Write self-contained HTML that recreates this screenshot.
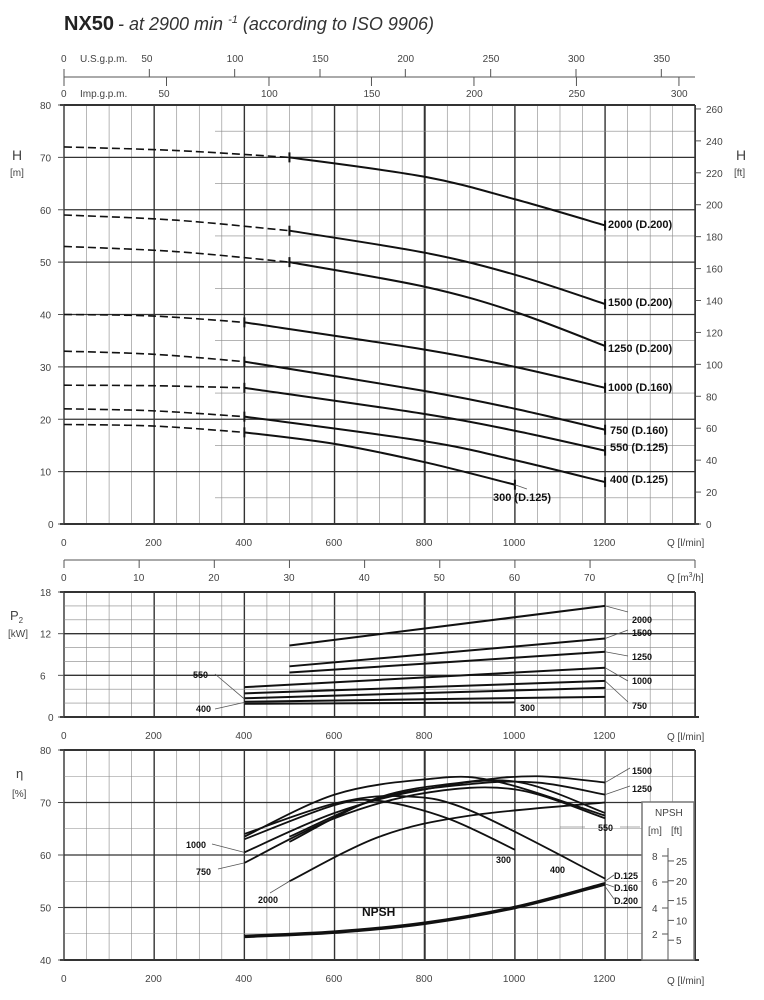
<!DOCTYPE html>
<html><head><meta charset="utf-8"><style>
html,body{margin:0;padding:0;background:#fff;}
svg{display:block;font-family:"Liberation Sans",sans-serif;}
.t{font-size:10px;fill:#444;}
.b{font-size:11px;font-weight:bold;fill:#111;}
.s{font-size:9px;font-weight:bold;fill:#111;}
</style></head><body>
<svg id="s" width="764" height="1000" viewBox="0 0 764 1000" xmlns="http://www.w3.org/2000/svg">
<g id="g"></g>
<text x="64" y="30" style="font-size:20px;font-weight:bold;fill:#222">NX50</text>
<text x="118" y="30" style="font-size:18px;font-style:italic;fill:#333"> - at 2900 min <tspan dy="-7" style="font-size:11px">-1</tspan><tspan dy="7"> (according to ISO 9906)</tspan></text>
<text class="t" x="61" y="62">0</text><text class="t" x="80" y="62">U.S.g.p.m.</text>
<text class="t" x="61" y="97">0</text><text class="t" x="80" y="97">Imp.g.p.m.</text>
<g id="lab"></g>
<text x="12" y="160" style="font-size:14px;fill:#444">H</text><text class="t" x="10" y="176">[m]</text>
<text x="736" y="160" style="font-size:14px;fill:#444">H</text><text class="t" x="734" y="176">[ft]</text>
<text class="t" x="667" y="546">Q  [l/min]</text>
<text class="t" x="667" y="581">Q  [m<tspan dy="-4" style="font-size:7px">3</tspan><tspan dy="4">/h]</tspan></text>
<text x="10" y="620" style="font-size:13px;fill:#444">P<tspan dy="3" style="font-size:8px">2</tspan></text><text class="t" x="8" y="637">[kW]</text>
<text class="t" x="667" y="740">Q  [l/min]</text>
<text x="16" y="778" style="font-size:13px;fill:#444">η</text><text class="t" x="12" y="797">[%]</text>
<text class="t" x="667" y="984">Q  [l/min]</text>
<text class="b" x="608" y="228">2000 (D.200)</text>
<text class="b" x="608" y="306">1500 (D.200)</text>
<text class="b" x="608" y="352">1250 (D.200)</text>
<text class="b" x="608" y="391">1000 (D.160)</text>
<text class="b" x="610" y="434">750 (D.160)</text>
<text class="b" x="610" y="451">550 (D.125)</text>
<text class="b" x="610" y="483">400 (D.125)</text>
<text class="b" x="493" y="501">300 (D.125)</text>
<text class="s" x="632" y="623">2000</text><text class="s" x="632" y="636">1500</text>
<text class="s" x="632" y="660">1250</text><text class="s" x="632" y="684">1000</text>
<text class="s" x="632" y="709">750</text><text class="s" x="193" y="678">550</text>
<text class="s" x="196" y="712">400</text><text class="s" x="520" y="711">300</text>
<text class="s" x="632" y="774">1500</text><text class="s" x="632" y="792">1250</text>
<text class="s" x="598" y="831">550</text><text class="s" x="186" y="848">1000</text>
<text class="s" x="196" y="875">750</text><text class="s" x="496" y="863">300</text>
<text class="s" x="550" y="873">400</text><text class="s" x="258" y="903">2000</text>
<text class="s" x="614" y="879">D.125</text><text class="s" x="614" y="891">D.160</text><text class="s" x="614" y="904">D.200</text>
<text x="362" y="916" style="font-size:12px;font-weight:bold;fill:#111">NPSH</text>
<rect x="642" y="802" width="52" height="158" fill="#fff" stroke="#777" stroke-width="1.5"/>
<text class="t" x="655" y="816">NPSH</text>
<text class="t" x="648" y="834">[m]</text><text class="t" x="671" y="834">[ft]</text>
<g id="np"></g>
</svg>
<script>
var g=document.getElementById('g'),lab=document.getElementById('lab'),np=document.getElementById('np');
var NS='http://www.w3.org/2000/svg';
function el(p,t,a,txt){var e=document.createElementNS(NS,t);for(var k in a)e.setAttribute(k,a[k]);if(txt!==undefined)e.textContent=txt;p.appendChild(e);return e;}
function L(p,x1,y1,x2,y2,w,c){el(p,'line',{x1:x1,y1:y1,x2:x2,y2:y2,stroke:c||'#555','stroke-width':w||0.7});}
function X(q){return 64+q*0.4509;}
var R=695;
function grid(top,bot,hl){
 for(var q=0;q<=1400;q+=50){var w=q%200==0?1.4:0.6;if(q==800)w=2;L(g,X(q),top,X(q),bot,w,q%200==0?'#333':'#888');}
 hl.forEach(function(h){L(g,h[2]||64,h[0],R,h[0],h[1],h[1]>1?'#333':'#888');});
 L(g,60,bot,R+4,bot,2,'#333');L(g,60,top,R,top,2,'#333');
 for(var q=0;q<=1200;q+=200)el(lab,'text',{'class':'t',x:X(q)-(q==0?3:q<1000?9:12),y:bot+22},q);
}
function Y1(h){return 524-h*5.2375;}
var hl=[];for(var h=5;h<80;h+=5)hl.push([Y1(h),h%10==0?1.3:0.6,h%10==0?64:215]);
grid(105,524,hl);
for(var h=0;h<=80;h+=10){L(g,58,Y1(h),64,Y1(h),1);el(lab,'text',{'class':'t',x:h?40:48,y:Y1(h)+4},h);}
for(var f=0;f<=260;f+=20){var y=524-f*0.3048*5.2375;L(g,R,y,R+6,y,1);el(lab,'text',{'class':'t',x:706,y:y+4},f);}
L(g,R,105,R,524,1.5,'#333');
L(g,64,77,R,77,1);
for(var u=0;u<=350;u+=50){var x=X(u*3.785);L(g,x,69,x,77,1);if(u)el(lab,'text',{'class':'t',x:x-8,y:62},u);}
for(var u=0;u<=300;u+=50){var x=X(u*4.546);L(g,x,77,x,86,1);if(u)el(lab,'text',{'class':'t',x:x-8,y:97},u);}
L(g,64,560,R,560,1);
for(var m=0;m<=70;m+=10){var x=X(m*16.667);L(g,x,560,x,568,1);el(lab,'text',{'class':'t',x:x-(m?6:3),y:581},m);}
L(g,R,560,R,568,1);
function Y2(p){return 717-p*6.944;}
hl=[];for(var p=2;p<18;p+=2)hl.push([Y2(p),p%6==0?1.3:0.6]);
grid(592,717,hl);L(g,R,592,R,717,1.5,'#333');
for(var p=0;p<=18;p+=6){L(g,58,Y2(p),64,Y2(p),1);el(lab,'text',{'class':'t',x:p?40:48,y:Y2(p)+4},p);}
function Y3(e){return 960-(e-40)*5.25;}
hl=[];for(var e=45;e<80;e+=5)hl.push([Y3(e),e%10==0?1.3:0.6]);
grid(750,960,hl);L(g,R,750,R,960,1.5,'#333');
for(var e=40;e<=80;e+=10){L(g,58,Y3(e),64,Y3(e),1);el(lab,'text',{'class':'t',x:40,y:Y3(e)+4},e);}
function path(pts,fy,w,dash){
 var P=pts.map(function(p){return [X(p[0]),fy(p[1])];});
 var d='M'+P[0][0]+','+P[0][1];
 for(var i=0;i<P.length-1;i++){var p0=P[i-1]||P[i],p1=P[i],p2=P[i+1],p3=P[i+2]||P[i+1];
  d+=' C'+(p1[0]+(p2[0]-p0[0])/6)+','+(p1[1]+(p2[1]-p0[1])/6)+' '+(p2[0]-(p3[0]-p1[0])/6)+','+(p2[1]-(p3[1]-p1[1])/6)+' '+p2[0]+','+p2[1];}
 el(g,'path',{d:d,fill:'none',stroke:'#111','stroke-width':w||1.8,'stroke-dasharray':dash||'none'});
}
var H=[
 [[[0,72],[250,71.3],[500,70]],[[500,70],[800,66.3],[1000,62],[1200,57]]],
 [[[0,59],[250,58],[500,56]],[[500,56],[800,51.8],[1000,47.6],[1200,42]]],
 [[[0,53],[250,52],[500,50]],[[500,50],[800,45.3],[1000,40.5],[1200,34]]],
 [[[0,40],[200,39.7],[400,38.5]],[[400,38.5],[800,33.3],[1000,30],[1200,26]]],
 [[[0,33],[200,32.4],[400,31]],[[400,31],[800,25.4],[1000,22],[1200,18]]],
 [[[0,26.5],[200,26.4],[400,26]],[[400,26],[800,21],[1000,17.8],[1200,14]]],
 [[[0,22],[200,21.6],[400,20.5]],[[400,20.5],[800,15.8],[1000,12.2],[1200,8]]],
 [[[0,19],[200,18.7],[400,17.5]],[[400,17.5],[600,15.3],[800,11.8],[1000,7.5]]]
];
H.forEach(function(c){path(c[0],Y1,1.6,'8,4');path(c[1],Y1,2);var a=c[1][0],b=c[1][c[1].length-1];
 L(g,X(a[0]),Y1(a[1])-5,X(a[0]),Y1(a[1])+5,2,'#111');L(g,X(b[0]),Y1(b[1])-5,X(b[0]),Y1(b[1])+5,2,'#111');});
L(g,X(1000)+12,489,X(1000),Y1(7.5),0.8);
var P=[[[500,10.3],[1200,16]],[[500,7.3],[1200,11.3]],[[500,6.4],[1200,9.4]],[[400,4.3],[1200,7.1]],[[400,3.4],[1200,5.2]],[[400,2.7],[1200,4.2]],[[400,2.2],[1200,2.9]],[[400,1.9],[1000,2.1]]];
P.forEach(function(c){L(g,X(c[0][0]),Y2(c[0][1]),X(c[1][0]),Y2(c[1][1]),2,'#111');});
[[16,612],[11.3,630],[9.4,656],[7.1,681],[5.2,702]].forEach(function(a){L(g,X(1200),Y2(a[0]),628,a[1],0.8);});
L(g,215,674,X(400),Y2(2.6),0.8);L(g,215,709,X(400),Y2(2.1),0.8);
var E=[
 [[500,62.5],[700,71],[900,74],[1050,75],[1200,73.8]],
 [[500,63.5],[700,70.8],[900,73.5],[1050,73.8],[1200,71.5]],
 [[400,60.5],[600,68],[800,72.5],[1000,74],[1200,68]],
 [[400,58.5],[600,67],[800,71.8],[1000,72.5],[1200,67]],
 [[400,63.5],[600,71.5],[800,74.4],[950,74.2],[1200,67.5]],
 [[400,64],[600,69.8],[750,71.2],[900,68.5],[1200,55.5]],
 [[400,63],[600,69.5],[700,70.3],[850,67],[1000,61]],
 [[500,55],[700,63.5],[900,67.5],[1200,70]]
];
E.forEach(function(c){path(c,Y3,1.8);});
path([[400,44.5],[600,45.3],[800,47],[1000,50],[1200,54.5]],Y3,3.5);
[[73.8,768],[71.5,786]].forEach(function(a){L(g,X(1200),Y3(a[0]),630,a[1],0.8);});
L(g,X(400),Y3(60.5),212,844,0.8);L(g,X(400),Y3(58.5),218,869,0.8);L(g,X(500),Y3(55),270,893,0.8);
L(g,X(1200),Y3(55),614,875,0.8);L(g,X(1200),Y3(54.5),614,887,0.8);L(g,X(1200),Y3(54),614,899,0.8);
L(g,585,827,X(1100),827,0.6);L(g,620,827,640,827,0.6);
L(np,668,848,668,960,1);
[[8,856],[6,882],[4,908],[2,934]].forEach(function(a){L(np,662,a[1],668,a[1],1);el(np,'text',{'class':'t',x:652,y:a[1]+4},a[0]);});
[25,20,15,10,5].forEach(function(f){var y=960-f*0.3048/2*26;L(np,668,y,674,y,1);el(np,'text',{'class':'t',x:676,y:y+4},f);});
</script>
</body></html>
